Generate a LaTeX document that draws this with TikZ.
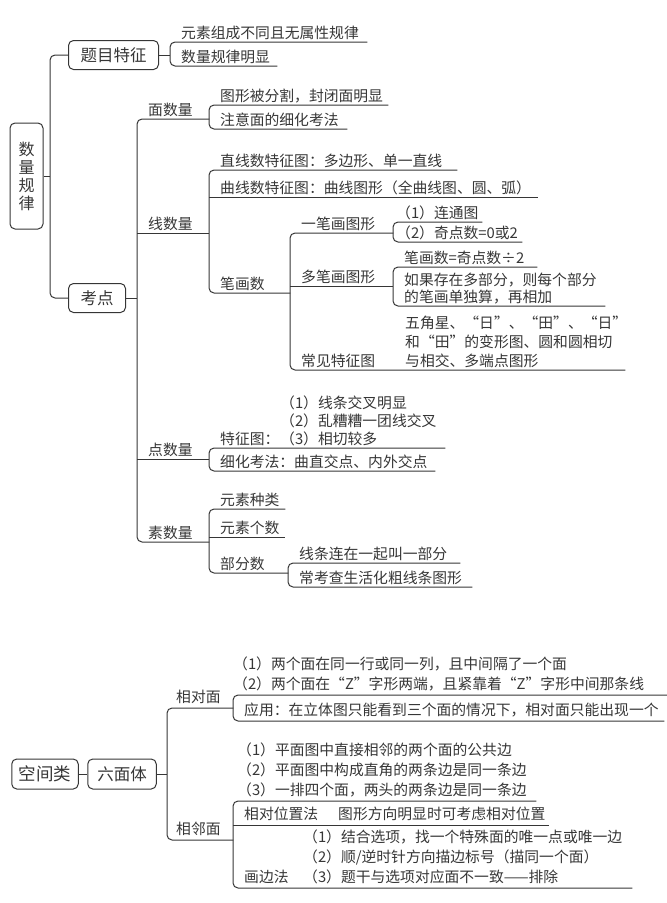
\documentclass[tikz,border=0pt]{standalone}
\usepackage{fontspec}
\setmainfont{Noto Sans CJK SC}
\newfontfamily\fwfont[RawFeature=+fwid]{Noto Sans CJK SC}
\newcommand\quo[1]{{\fwfont “}#1{\fwfont ”}}
\definecolor{ink}{HTML}{363636}

\tikzset{
  link/.style={draw=ink, line width=1pt, rounded corners=5pt},
  leaf/.style={anchor=south west, inner xsep=0pt, inner ysep=0.5pt, align=left,
    text=ink, font=\fontsize{14.8}{19}\selectfont,
    execute at begin node={\leftskip=#1\relax},
    execute at end node={\rule[-3pt]{0pt}{1pt}}},
  leaf/.default=11pt,
  bleaf/.style={leaf=#1, inner ysep=2.5pt, font=\fontsize{14.8}{20}\selectfont},
  bleaf/.default=11pt,
  topic/.style={draw=ink, line width=1pt, rounded corners=5pt, text=ink,
    minimum height=29pt, inner xsep=12pt, font=\fontsize{16.5}{18}\selectfont},
}

\begin{document}
\begin{tikzpicture}[x=1pt, y=-1pt]
  \useasboundingbox (0,0) rectangle (667,903);
  % 数量规律
  \node[topic, align=center, minimum width=33pt, minimum height=106pt, inner xsep=0pt,
    font=\fontsize{16}{18}\selectfont] (rt) at (26.5,176) {数\\量\\规\\律};
  \node[topic, anchor=west] (tm) at (68,55) {题目特征};
  \node[topic, anchor=west] (kd) at (68,298) {考点};
  \coordinate (t1) at (50,176);
  \draw[link] (tm.west) -| (t1) |- (kd.west);
  \draw[link] (rt.east) -- (t1);

  % 题目特征
  \node[leaf, text width=197pt] (tm1) at (170,42) {元素组成不同且无属性规律};
  \node[leaf, text width=107pt] (tm2) at (170,66) {数量规律明显};
  \draw[link] (tm.east) -- (tm.east -| tm1.south west);
  \draw[link] (tm1.south east) -- (tm1.south west) -- (tm2.south west) -- (tm2.south east);

  % 考点
  \node[leaf, text width=72pt] (mian) at (137,119) {面数量};
  \node[leaf, text width=72pt] (xian) at (137,233) {线数量};
  \node[leaf, text width=72pt] (dian) at (137,459) {点数量};
  \node[leaf, text width=72pt] (su) at (137,542) {素数量};
  \draw[link] (kd.east) -- (kd.east -| mian.south west);
  \draw[link] (mian.south east) -- (mian.south west) -- (su.south west) -- (su.south east);
  \draw[link] (xian.south west) -- (xian.south east);
  \draw[link] (dian.south west) -- (dian.south east);

  % 面数量
  \node[leaf, text width=179pt] (mian1) at (209,105) {图形被分割，封闭面明显};
  \node[leaf, text width=138pt] (mian2) at (209,129) {注意面的细化考法};
  \draw[link] (mian1.south east) -- (mian1.south west) -- (mian2.south west) -- (mian2.south east);

  % 线数量
  \node[leaf, text width=248pt] (xian1) at (209,170) {直线数特征图：多边形、单一直线};
  \node[leaf, text width=329pt] (xian2) at (209,197) {曲线数特征图：曲线图形（全曲线图、圆、弧）};
  \node[leaf, text width=81pt] (bh) at (209,293) {笔画数};
  \draw[link] (xian1.south east) -- (xian1.south west) -- (bh.south west) -- (bh.south east);
  \draw[link] (xian2.south west) -- (xian2.south east);

  \node[leaf, text width=103pt] (yb) at (290,233) {一笔画图形};
  \node[leaf, text width=103pt] (db) at (290,286) {多笔画图形};
  \node[leaf, text width=104pt] (cj) at (290,370) {常见特征图};
  \node[leaf, text width=231pt] (cj1) at (394,370)
    {五角星、\quo{日}、\quo{田}、\quo{日}\\和\quo{田}的变形图、圆和圆相切\\与相交、多端点图形};
  \draw[link] (yb.south east) -- (yb.south west) -- (cj.south west) -- (cj1.south east);
  \draw[link] (db.south west) -- (db.south east);

  \node[leaf=3pt, text width=89pt] (yb1) at (393,222) {（1）连通图};
  \node[leaf=3pt, text width=129pt] (yb2) at (393,242) {（2）奇点数=0或2};
  \draw[link] (yb1.south east) -- (yb1.south west) -- (yb2.south west) -- (yb2.south east);

  \node[leaf, text width=144pt] (db1) at (393,267) {笔画数=奇点数÷2};
  \node[leaf, text width=212pt, font=\fontsize{14.8}{17}\selectfont] (db2) at (393,306)
    {如果存在多部分，则每个部分\\的笔画单独算，再相加};
  \draw[link] (db1.south east) -- (db1.south west) -- (db2.south west) -- (db2.south east);

  % 点数量
  \node[leaf, text width=67pt] (dian1) at (209,448) {特征图：};
  \node[leaf=4pt, text width=169pt, font=\fontsize{14.8}{18}\selectfont] (dian1a) at (276,448)
    {（1）线条交叉明显\\（2）乱糟糟一团线交叉\\（3）相切较多};
  \node[leaf, text width=226pt] (dian2) at (209,471) {细化考法：曲直交点、内外交点};
  \draw[link] (dian1a.south east) -- (dian1.south west) -- (dian2.south west) -- (dian2.south east);

  % 素数量
  \node[leaf, text width=76pt] (su1) at (209,509) {元素种类};
  \node[leaf, text width=76pt] (su2) at (209,537) {元素个数};
  \node[leaf, text width=79pt] (bf) at (209,573) {部分数};
  \draw[link] (su1.south east) -- (su1.south west) -- (bf.south west) -- (bf.south east);
  \draw[link] (su2.south west) -- (su2.south east);
  \node[leaf, text width=172pt] (bf1) at (288,563) {线条连在一起叫一部分};
  \node[leaf, text width=184pt] (bf2) at (288,587) {常考查生活化粗线条图形};
  \draw[link] (bf1.south east) -- (bf1.south west) -- (bf2.south west) -- (bf2.south east);

  % 空间类
  \node[topic, font=\fontsize{17.5}{20}\selectfont, inner xsep=7pt, minimum height=30pt] (kj) at (45,774) {空间类};
  \node[topic, inner xsep=9.5pt, minimum height=30pt] (lmt) at (122,774) {六面体};
  \draw[link] (kj) -- (lmt);

  \node[bleaf=9pt, text width=66pt] (xd) at (167,708) {相对面};
  \node[bleaf=9pt, text width=66pt] (xl) at (167,840) {相邻面};
  \draw[link] (lmt.east) -- (lmt.east -| xd.south west);
  \draw[link] (xd.south east) -- (xd.south west) -- (xl.south west) -- (xl.south east);

  % 相对面
  \node[bleaf=0pt, text width=434pt] (xd1) at (233,695)
    {（1）两个面在同一行或同一列，且中间隔了一个面\\（2）两个面在\quo{Z}字形两端，且紧靠着\quo{Z}字形中间那条线};
  \node[bleaf, text width=431pt] (xd2) at (233,721) {应用：在立体图只能看到三个面的情况下，相对面只能出现一个};
  \draw[link] (xd1.south east) -- (xd1.south west) -- (xd2.south west) -- (xd2.south east);

  % 相邻面
  \node[bleaf=4pt, text width=303pt] (xl1) at (233,801)
    {（1）平面图中直接相邻的两个面的公共边\\（2）平面图中构成直角的两条边是同一条边\\（3）一排四个面，两头的两条边是同一条边};
  \node[bleaf, text width=94pt] (xl2) at (233,825) {相对位置法};
  \node[bleaf, text width=222pt] (xl2a) at (327,825) {图形方向明显时可考虑相对位置};
  \node[bleaf, text width=66pt] (xl3) at (233,888) {画边法};
  \node[bleaf=4pt, text width=333pt] (xl3a) at (299,888)
    {（1）结合选项，找一个特殊面的唯一点或唯一边\\（2）顺/逆时针方向描边标号（描同一个面）\\（3）题干与选项对应面不一致——排除};
  \draw[link] (xl1.south east) -- (xl1.south west) -- (xl3.south west) -- (xl3a.south east);
  \draw[link] (xl2.south west) -- (xl2a.south east);
\end{tikzpicture}
\end{document}
